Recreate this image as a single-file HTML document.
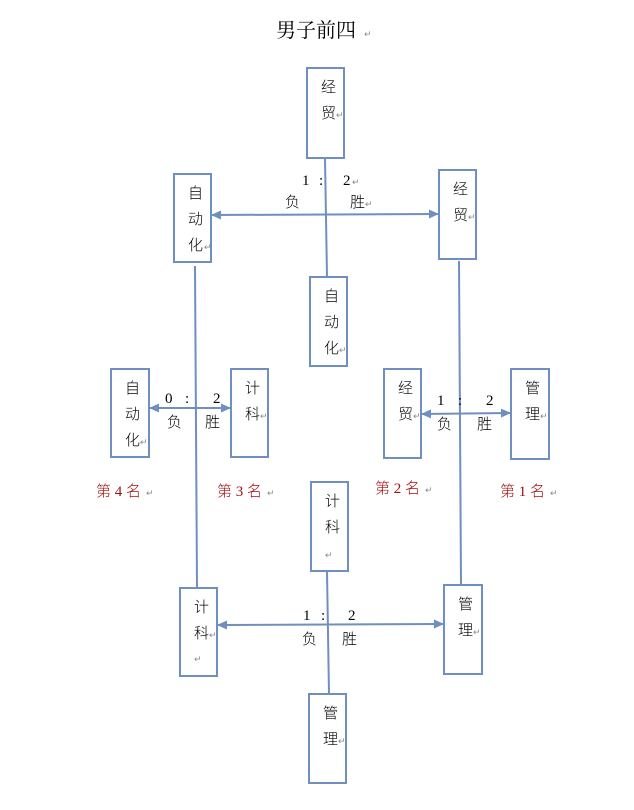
<!DOCTYPE html>
<html><head><meta charset="utf-8"><style>
html,body{margin:0;padding:0;background:#fff;}
svg{display:block}
text{font-family:"Liberation Serif","Noto Sans CJK SC",serif;font-size:15px;fill:#000}
.c{font-family:"Liberation Sans","Noto Sans CJK SC",sans-serif;font-weight:300}
.t{font-family:"Liberation Serif","Noto Serif CJK SC",serif;font-size:20px}
.r{fill:#a01010;font-size:15px}
.m{fill:#888;font-size:9px}
</style></head><body>
<svg width="634" height="810" viewBox="0 0 634 810" xmlns="http://www.w3.org/2000/svg">
<defs>
<marker id="a" markerWidth="10" markerHeight="10" refX="9" refY="5" orient="auto" markerUnits="userSpaceOnUse">
<path d="M0,0.5 L10,5 L0,9.5 z" fill="#6f8fc0"/></marker>
<marker id="b" markerWidth="10" markerHeight="10" refX="1" refY="5" orient="auto" markerUnits="userSpaceOnUse">
<path d="M10,0.5 L0,5 L10,9.5 z" fill="#6f8fc0"/></marker>
</defs>
<text x="276" y="37" class="t">男子前四</text><text x="364" y="37" class="m">↵</text>
<g fill="#fff" stroke="#6f8fc0" stroke-width="2">
<rect x="307" y="68" width="37" height="90"/>
<rect x="174" y="174" width="37" height="88"/>
<rect x="439" y="170" width="37" height="89"/>
<rect x="310" y="277" width="37" height="89"/>
<rect x="111" y="369" width="38" height="88"/>
<rect x="231" y="369" width="37" height="88"/>
<rect x="384" y="369" width="37" height="89"/>
<rect x="511" y="369" width="38" height="90"/>
<rect x="311" y="482" width="37" height="89"/>
<rect x="180" y="588" width="37" height="88"/>
<rect x="444" y="585" width="38" height="89"/>
<rect x="309" y="694" width="37" height="89"/>
</g>
<g stroke="#6f8fc0" stroke-width="2" fill="none">
<line x1="325" y1="158" x2="327" y2="277"/>
<line x1="212" y1="215" x2="438" y2="214" marker-start="url(#b)" marker-end="url(#a)"/>
<line x1="195" y1="266" x2="197" y2="587"/>
<line x1="459" y1="261" x2="461" y2="584"/>
<line x1="150" y1="408" x2="230" y2="408" marker-start="url(#b)" marker-end="url(#a)"/>
<line x1="422" y1="414" x2="510" y2="413" marker-start="url(#b)" marker-end="url(#a)"/>
<line x1="218" y1="625" x2="443" y2="624" marker-start="url(#b)" marker-end="url(#a)"/>
<line x1="327" y1="571" x2="329" y2="694"/>
</g>
<g class="c">
<text x="321" y="92">经</text><text x="321" y="118">贸</text><text x="336" y="118" class="m">↵</text>
<text x="188" y="198">自</text><text x="188" y="224">动</text><text x="188" y="250">化</text><text x="204" y="250" class="m">↵</text>
<text x="453" y="194">经</text><text x="453" y="220">贸</text><text x="468" y="220" class="m">↵</text>
<text x="324" y="301">自</text><text x="324" y="327">动</text><text x="324" y="353">化</text><text x="339" y="353" class="m">↵</text>
<text x="125" y="393">自</text><text x="125" y="419">动</text><text x="125" y="445">化</text><text x="140" y="445" class="m">↵</text>
<text x="245" y="393">计</text><text x="245" y="419">科</text><text x="260" y="419" class="m">↵</text>
<text x="398" y="393">经</text><text x="398" y="419">贸</text><text x="413" y="419" class="m">↵</text>
<text x="525" y="393">管</text><text x="525" y="419">理</text><text x="540" y="419" class="m">↵</text>
<text x="325" y="506">计</text><text x="325" y="532">科</text><text x="325" y="558" class="m">↵</text>
<text x="194" y="612">计</text><text x="194" y="638">科</text><text x="209" y="638" class="m">↵</text><text x="194" y="662" class="m">↵</text>
<text x="458" y="609">管</text><text x="458" y="635">理</text><text x="473" y="635" class="m">↵</text>
<text x="323" y="718">管</text><text x="323" y="744">理</text><text x="338" y="744" class="m">↵</text>
<text x="285" y="207">负</text><text x="350" y="207">胜</text><text x="365" y="207" class="m">↵</text>
<text x="167" y="427">负</text><text x="205" y="427">胜</text>
<text x="437" y="429">负</text><text x="477" y="429">胜</text>
<text x="302" y="644">负</text><text x="342" y="644">胜</text>
<text x="96" y="496" class="r">第 4 名</text><text x="146" y="496" class="m">↵</text>
<text x="217" y="496" class="r">第 3 名</text><text x="267" y="496" class="m">↵</text>
<text x="375" y="493" class="r">第 2 名</text><text x="425" y="493" class="m">↵</text>
<text x="500" y="496" class="r">第 1 名</text><text x="550" y="496" class="m">↵</text>
</g>
<text x="302" y="185">1</text><text x="319" y="185">:</text><text x="343" y="185">2</text><text x="352" y="185" class="m">↵</text>
<text x="165" y="403">0</text><text x="185" y="403">:</text><text x="213" y="403">2</text>
<text x="437" y="405">1</text><text x="458" y="405">:</text><text x="486" y="405">2</text>
<text x="303" y="620">1</text><text x="321" y="620">:</text><text x="348" y="620">2</text>
</svg>
</body></html>
